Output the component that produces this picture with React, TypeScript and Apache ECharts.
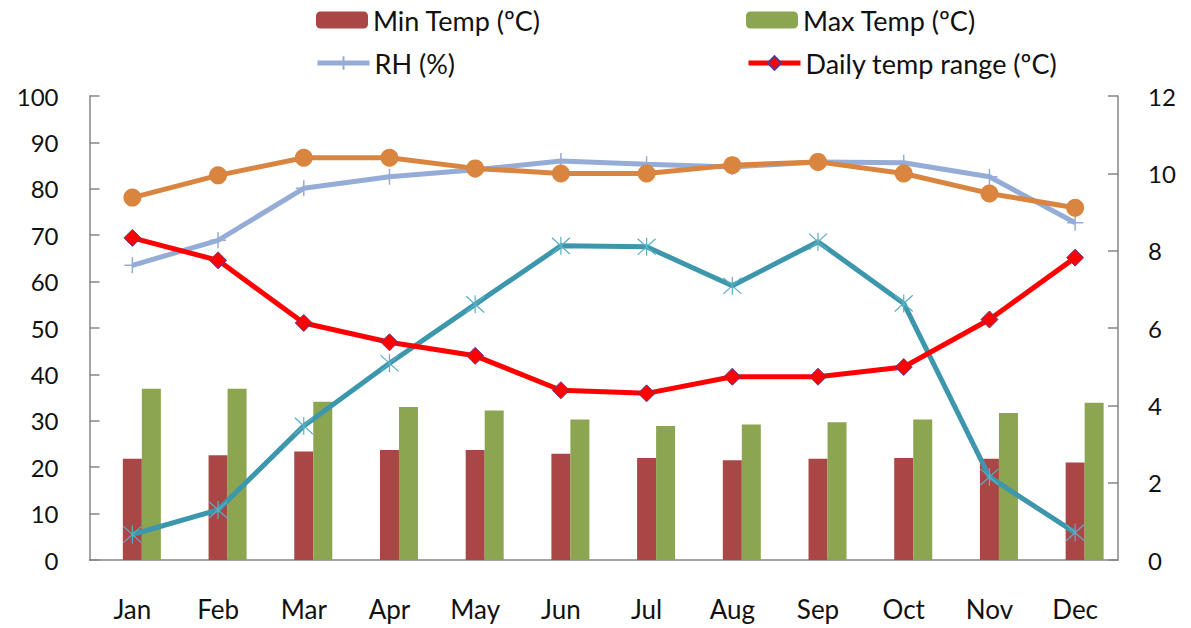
import React, { useEffect, useRef } from "react";
import * as echarts from "echarts";

const months = ["Jan", "Feb", "Mar", "Apr", "May", "Jun", "Jul", "Aug", "Sep", "Oct", "Nov", "Dec"];
const minTemp = [21.8, 22.6, 23.4, 23.7, 23.7, 22.9, 22.0, 21.5, 21.8, 22.0, 21.8, 21.0];
const maxTemp = [36.9, 36.9, 34.1, 33.0, 32.2, 30.3, 28.9, 29.2, 29.7, 30.3, 31.7, 33.9];
const rh = [63.5, 68.9, 80.1, 82.6, 84.1, 86.0, 85.3, 84.7, 85.8, 85.6, 82.6, 72.7];
const dailyRange = [8.33, 7.75, 6.13, 5.63, 5.28, 4.39, 4.31, 4.74, 4.74, 4.99, 6.22, 7.82];
const orangeSeries = [78.1, 82.9, 86.7, 86.7, 84.4, 83.3, 83.3, 85.1, 85.8, 83.3, 79.0, 75.9];
const tealSeries = [5.5, 10.8, 28.9, 42.4, 55.1, 67.7, 67.5, 59.1, 68.6, 55.3, 17.9, 5.9];
const leftTicks = { min: 0, max: 100, interval: 10 };
const rightTicks = { min: 0, max: 12, interval: 2 };

const FONT = "Lato";
const AXIS = "#868686";
const PLUS = "path://M0,-10L0,10M-10,0L10,0";
const STAR = "path://M0,-10L0,10M-9,-9L9,9M-9,9L9,-9";

export default function App() {
  const ref = useRef<HTMLDivElement>(null);
  useEffect(() => {
    if (!ref.current) return;
    const chart = echarts.init(ref.current, undefined, { renderer: "svg" });
    const legendText = { fontFamily: FONT, fontSize: 27, color: "#111", lineHeight: 28 };
    const mkLegend = (name: string, left: number, top: number) => ({
      data: [name],
      left,
      top,
      itemWidth: 52,
      itemHeight: 17,
      itemGap: 0,
      padding: 0,
      textStyle: legendText,
      lineStyle: { width: 5 },
      selectedMode: false,
    });
    chart.setOption({
      animation: false,
      backgroundColor: "#fff",
      legend: [
        mkLegend("Min Temp (ºC)", 316, 6),
        mkLegend("Max Temp (ºC)", 746, 6),
        mkLegend("RH (%)", 315, 49),
        mkLegend("Daily temp range (ºC)", 746, 49),
      ],
      grid: { left: 89.5, right: 73, top: 96, bottom: 68 },
      xAxis: {
        type: "category",
        data: months,
        boundaryGap: true,
        axisLine: { lineStyle: { color: AXIS, width: 1.5 } },
        axisTick: { inside: true, length: 10, lineStyle: { color: AXIS, width: 1.5 } },
        axisLabel: { fontFamily: FONT, fontSize: 26, color: "#111", margin: 36 },
      },
      yAxis: [
        {
          type: "value",
          ...leftTicks,
          position: "left",
          splitLine: { show: false },
          axisLine: { show: true, lineStyle: { color: AXIS, width: 1.5 } },
          axisTick: { show: true, inside: true, length: 10, lineStyle: { color: AXIS, width: 1.5 } },
          axisLabel: { fontFamily: FONT, fontSize: 24, color: "#111", margin: 31 },
        },
        {
          type: "value",
          ...rightTicks,
          position: "right",
          splitLine: { show: false },
          axisLine: { show: true, lineStyle: { color: AXIS, width: 1.5 } },
          axisTick: { show: true, inside: true, length: 10, lineStyle: { color: AXIS, width: 1.5 } },
          axisLabel: { fontFamily: FONT, fontSize: 24, color: "#111", margin: 30 },
        },
      ],
      series: [
        {
          name: "hidden",
          type: "bar",
          data: months.map(() => null),
          barWidth: 19,
          barGap: "0%",
        },
        {
          name: "Min Temp (ºC)",
          type: "bar",
          data: minTemp,
          barWidth: 19,
          barGap: "0%",
          itemStyle: { color: "#A84745" },
        },
        {
          name: "Max Temp (ºC)",
          type: "bar",
          data: maxTemp,
          barWidth: 19,
          barGap: "0%",
          itemStyle: { color: "#8CA550" },
        },
        {
          name: "RH (%)",
          type: "line",
          data: rh,
          symbol: PLUS,
          symbolSize: 16,
          lineStyle: { color: "#94ACD6", width: 5 },
          itemStyle: { color: "#94ACD6", borderColor: "#94ACD6", borderWidth: 1.5 },
          z: 3,
        },
        {
          name: "orange",
          type: "line",
          data: orangeSeries,
          symbol: "circle",
          symbolSize: 18,
          lineStyle: { color: "#D9843F", width: 5 },
          itemStyle: { color: "#D9843F" },
          z: 4,
        },
        {
          name: "teal",
          type: "line",
          data: tealSeries,
          symbol: STAR,
          symbolSize: 18,
          lineStyle: { color: "#3D97AC", width: 5 },
          itemStyle: { color: "#3D97AC", borderColor: "#5AAFC4", borderWidth: 1.2 },
          z: 5,
        },
        {
          name: "Daily temp range (ºC)",
          type: "line",
          yAxisIndex: 1,
          data: dailyRange,
          symbol: "diamond",
          symbolSize: 17,
          lineStyle: { color: "#FF0000", width: 5 },
          itemStyle: { color: "#FF0000", borderColor: "#5E3A8A", borderWidth: 1 },
          z: 6,
        },
      ],
    });
    return () => chart.dispose();
  }, []);
  return (
    <div
      ref={ref}
      style={{ position: "absolute", left: 0, top: 0, width: 1191, height: 628 }}
    />
  );
}
